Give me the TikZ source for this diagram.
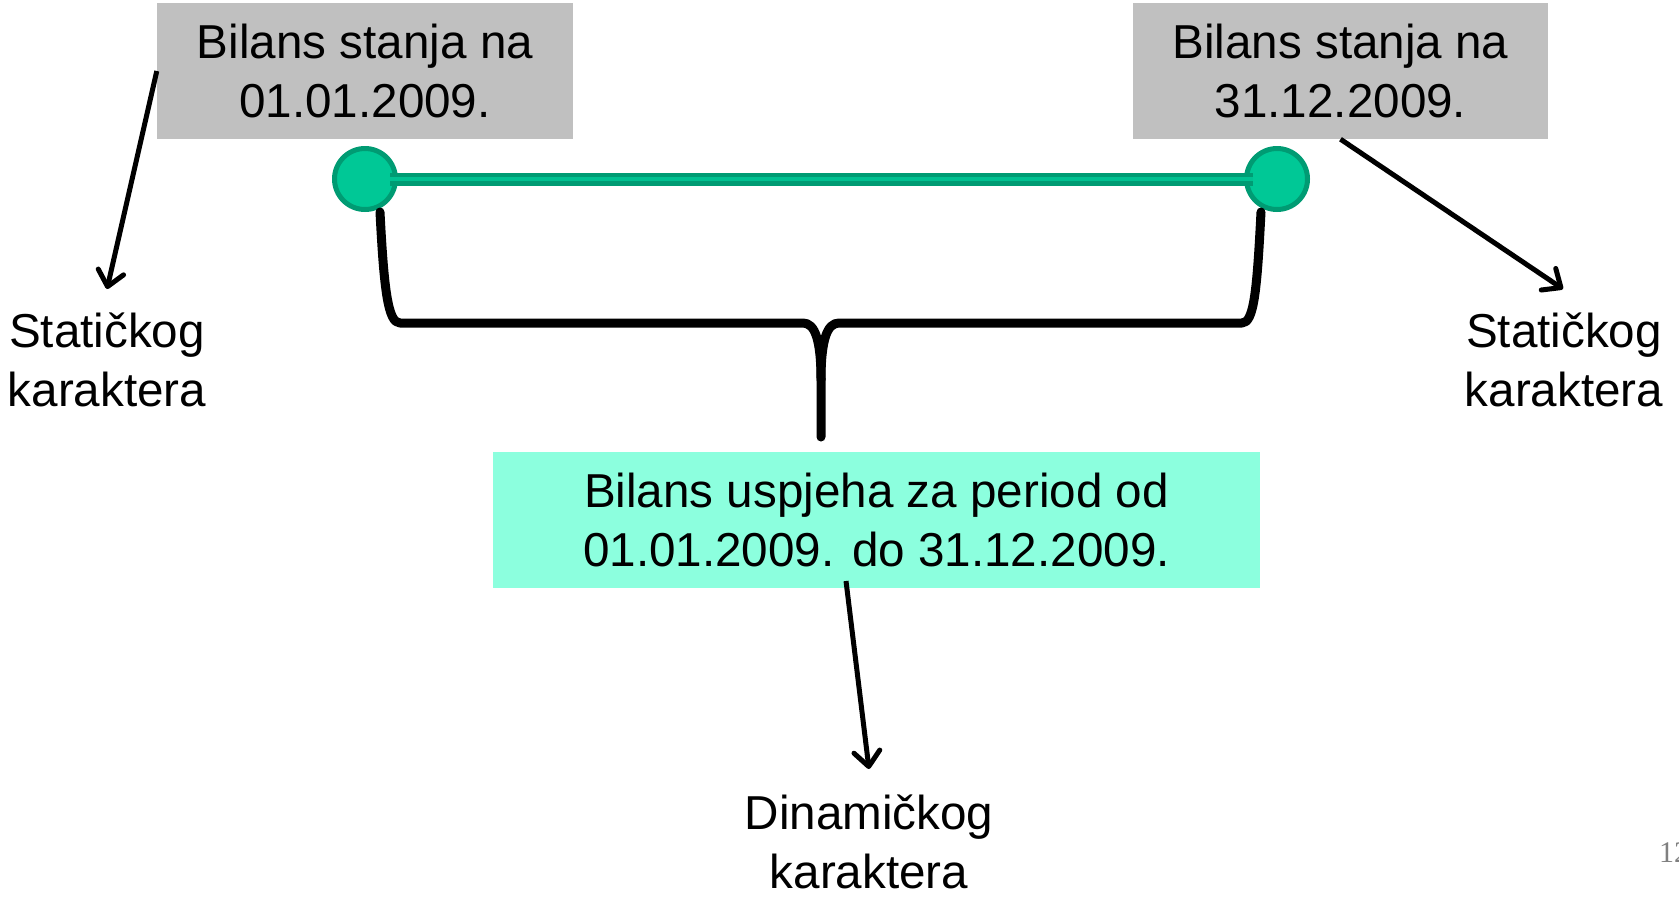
\documentclass[tikz,border=0pt]{standalone}
\usepackage{fontspec}
\setmainfont{Liberation Sans}
\newfontfamily\serifnum{Liberation Serif}
\usetikzlibrary{arrows.meta}
\definecolor{boxgray}{RGB}{192,192,192}
\definecolor{aquabox}{RGB}{140,255,222}
\definecolor{dotfill}{RGB}{0,200,150}
\definecolor{dotline}{RGB}{0,155,115}
\begin{document}
\begin{tikzpicture}[x=1pt,y=-1pt,
  txt/.style={align=center,inner sep=0pt,font=\fontsize{47.6}{59}\selectfont},
  graybox/.style={txt,fill=boxgray,minimum height=136pt},
  aquabx/.style={txt,fill=aquabox,minimum height=136pt},
  dot/.style={circle,fill=dotfill,draw=dotline,line width=5pt,minimum size=61pt,inner sep=0pt},
  arr/.style={line width=5pt,-{Straight Barb[length=15pt,width=26pt,line width=5pt,round]}},
  brace/.style={line width=9pt,line cap=round,line join=round}]
\useasboundingbox (0,0) rectangle (1679,898);
\node[graybox,minimum width=416pt] (b1) at (365,71) {Bilans stanja na\\01.01.2009.};
\node[graybox,minimum width=415pt] (b2) at (1340.5,71) {Bilans stanja na\\31.12.2009.};
\node[aquabx,minimum width=767pt] (b3) at (876.5,520) {Bilans uspjeha za period od\\01.01.2009. do 31.12.2009.};
\node[txt] (s1) at (107,360) {Statičkog\\karaktera};
\node[txt] (s2) at (1564,360) {Statičkog\\karaktera};
\node[txt] (d1) at (869,842) {Dinamičkog\\karaktera};
\node[anchor=base west,inner sep=0pt,font=\serifnum\fontsize{30}{30}\selectfont,text=gray] (pg) at (1659,862) {12};
% dots and line
\node[dot] (c1) at (365,179) {};
\node[dot] (c2) at (1277,179) {};
\draw[dotline,line width=13pt] ([xshift=25pt]c1.center) -- ([xshift=-24pt]c2.center);
\draw[dotfill!85!dotline,line width=4pt] ([xshift=25pt]c1.center) -- ([xshift=-24pt]c2.center);
% brace
\draw[brace] (380,212) .. controls (384,290) and (388,323) .. (400,323) -- (803,323)
  .. controls (815,323) and (821,340) .. (821,380) -- (821,437);
\draw[brace] (821,380) .. controls (821,340) and (827,323) .. (839,323) -- (1242,323)
  .. controls (1254,323) and (1257,290) .. (1261,212);
% arrows
\coordinate (t1) at (107,289);
\coordinate (t2) at (1563,289);
\coordinate (f3) at (846,581);
\coordinate (t3) at (869,769);
\draw[arr] (b1.west) -- (t1);
\draw[arr] (b2.south) -- (t2);
\draw[arr] (f3) -- (t3);
\end{tikzpicture}
\end{document}
